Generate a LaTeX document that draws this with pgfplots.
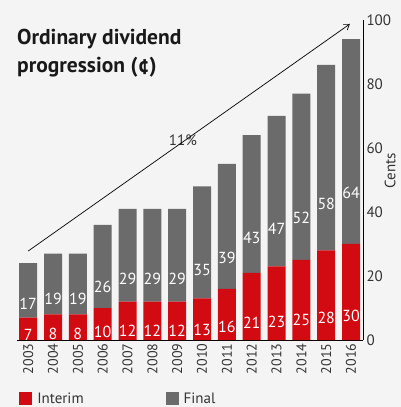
\documentclass[border=0pt]{standalone}
\usepackage{pgfplots}
\pgfplotsset{compat=1.18}
\usepackage{pgfplotstable}
\usepackage{fontspec}
\setmainfont{PT Sans}
\usetikzlibrary{arrows.meta}
\definecolor{bg}{HTML}{F4F4F4}
\definecolor{redbar}{HTML}{D20A11}
\definecolor{graybar}{HTML}{6B6B6B}
\definecolor{txt}{HTML}{333333}

\pgfplotstableread{
x year interim final
0 2003 7 17
1 2004 8 19
2 2005 8 19
3 2006 10 26
4 2007 12 29
5 2008 12 29
6 2009 12 29
7 2010 13 35
8 2011 16 39
9 2012 21 43
10 2013 23 47
11 2014 25 52
12 2015 28 58
13 2016 30 64
}\datatable

\begin{document}
\begin{tikzpicture}
\fill[bg] (0pt,0pt) rectangle (401pt,407pt);
\useasboundingbox (0pt,0pt) rectangle (401pt,407pt);
\node[anchor=north west, align=left, font=\bfseries\fontsize{21.5}{28}\selectfont, text=black!90, inner sep=0pt] at (17pt,378pt) {Ordinary dividend\\progression (¢)};
\begin{axis}[
  at={(17pt,67pt)}, anchor=south west,
  scale only axis, width=346pt, height=320pt,
  ybar stacked, bar width=18pt,
  xmin=-0.45, xmax=13.48, ymin=0, ymax=100,
  axis x line=bottom, axis y line=right,
  axis line style={-, black, line width=0.8pt},
  xtick=data, xticklabels from table={\datatable}{year},
  x tick label style={rotate=90, anchor=east, font=\fontsize{14}{14}\selectfont, text=txt},
  ytick={0,20,...,100},
  y tick label style={font=\fontsize{15}{15}\selectfont, text=txt},
  /pgf/number format/assume math mode=true,
  major tick length=0pt,
  clip=false,
  nodes near coords,
  point meta=explicit,
  every node near coord/.append style={font=\fontsize{16}{16}\selectfont, text=white, anchor=center, yshift={-0.8pt*\segval}},
  legend columns=2,
  legend style={at={(axis description cs:0.006,-0.183)}, anchor=west, draw=none, fill=none,
    font=\fontsize{15}{15}\selectfont, text=txt, inner sep=0pt,
    /tikz/every odd column/.append style={column sep=3pt},
    /tikz/every even column/.append style={column sep=80pt}},
  legend image code/.code={\fill[#1] (0pt,-6.5pt) rectangle (13pt,6.5pt);},
]
\addplot[fill=redbar, draw=none, visualization depends on={\thisrow{interim} \as \segval}]
  table[x=x, y=interim, meta=interim] {\datatable};
\addlegendentry{Interim}
\addplot[fill=graybar, draw=none, visualization depends on={\thisrow{final} \as \segval}]
  table[x=x, y=final, meta=final] {\datatable};
\addlegendentry{Final}
\draw[-{Straight Barb[length=5pt,width=7pt]}, line width=0.7pt, black] (axis cs:0,27.8) -- (axis cs:12.95,98.75);
\node[fill=bg, font=\fontsize{15}{15}\selectfont, text=txt, inner sep=1pt] at (axis cs:6.23,62.5) {11\%};
\node[rotate=90, anchor=center, font=\fontsize{15}{15}\selectfont, text=txt] at ([xshift=27pt]axis description cs:1,0.528) {Cents};
\end{axis}
\end{tikzpicture}
\end{document}
